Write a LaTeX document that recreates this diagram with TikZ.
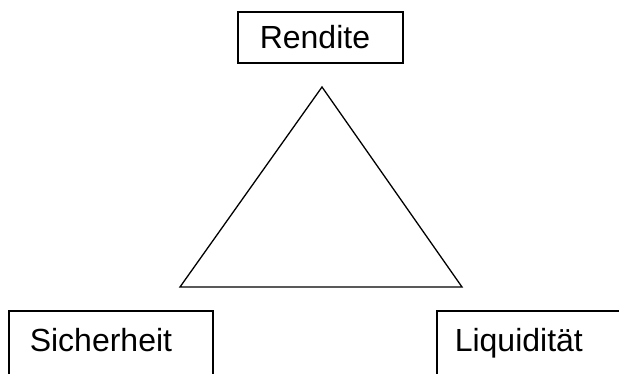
\documentclass[tikz,border=0pt]{standalone}
\usepackage{fontspec}
\setmainfont{Liberation Sans}
\begin{document}
\begin{tikzpicture}[x=1pt,y=-1pt,
  goalbox/.style={draw=black, line width=1.6pt, rectangle, anchor=north west,
    align=left, font=\fontsize{32}{36}\selectfont, inner ysep=0pt},
  edge/.style={draw=black, line width=1.3pt, line join=miter}]
  \useasboundingbox (0,0) rectangle (619,374);
  \clip (0,0) rectangle (619,374);
  % the three investment goals
  \node[goalbox, inner xsep=22pt, text width=121pt, minimum height=51pt] (rendite) at (237,11) {Rendite};
  \node[goalbox, inner xsep=21pt, text width=162pt, minimum height=66pt,
        text height=22pt, text depth=6pt] (sicherheit) at (8,310) {Sicherheit};
  \node[goalbox, inner xsep=18pt, text width=172pt, minimum height=66pt,
        text height=22pt, text depth=6pt] (liquiditaet) at (436,310) {Liquidität};
  % the triangle between them
  \coordinate (apex) at (322,87);
  \coordinate (left) at (180,287);
  \coordinate (right) at (462,287);
  \draw[edge] (apex) -- (left) -- (right) -- cycle;
\end{tikzpicture}
\end{document}
